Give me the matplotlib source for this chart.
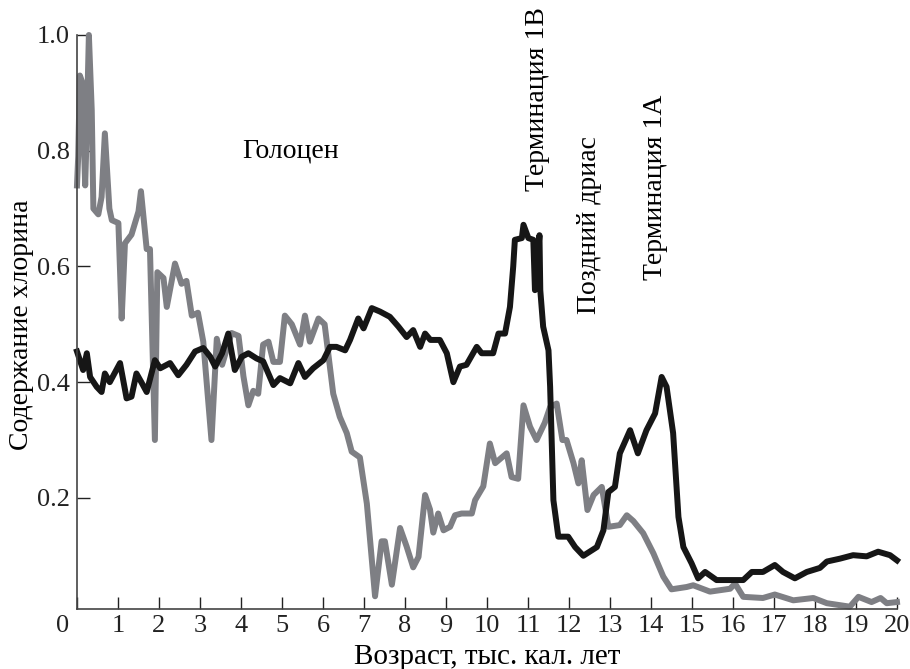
import matplotlib
matplotlib.use("Agg")
from matplotlib import pyplot as plt
from matplotlib import transforms

plt.rcParams['font.family'] = ['Liberation Serif', 'DejaVu Serif']

# grey curve (age, chlorin)
gray_age = [0.00, 0.03, 0.07, 0.12, 0.20, 0.22, 0.29, 0.36, 0.40, 0.52, 0.60, 0.68, 0.79, 0.85,
            1.01, 1.09, 1.17, 1.33, 1.50, 1.56, 1.70, 1.78, 1.90, 1.96, 2.11, 2.19, 2.39, 2.55,
            2.67, 2.80, 2.95, 3.08, 3.28, 3.41, 3.54, 3.77, 3.94, 4.06, 4.18, 4.30, 4.42, 4.54,
            4.67, 4.79, 4.95, 5.07, 5.24, 5.44, 5.56, 5.68, 5.89, 6.04, 6.25, 6.41, 6.58, 6.70,
            6.90, 7.07, 7.27, 7.43, 7.51, 7.68, 7.88, 8.04, 8.20, 8.33, 8.49, 8.61, 8.69, 8.81,
            8.94, 9.10, 9.22, 9.38, 9.63, 9.71, 9.91, 10.07, 10.20, 10.48, 10.60, 10.76, 10.89,
            11.05, 11.21, 11.41, 11.54, 11.70, 11.84, 11.94, 12.11, 12.23, 12.31, 12.45, 12.60,
            12.80, 12.96, 13.24, 13.41, 13.57, 13.81, 14.06, 14.30, 14.50, 14.87, 15.03, 15.44,
            15.93, 16.05, 16.25, 16.73, 17.02, 17.47, 17.96, 18.29, 18.85, 19.06, 19.38, 19.60,
            19.75, 20.00]
gray_val = [0.74, 0.79, 0.93, 0.92, 0.74, 0.79, 1.00, 0.87, 0.70, 0.69, 0.72, 0.83, 0.70, 0.68,
            0.675, 0.51, 0.64, 0.655, 0.695, 0.73, 0.63, 0.63, 0.30, 0.59, 0.58, 0.53, 0.605, 0.57,
            0.575, 0.515, 0.52, 0.47, 0.30, 0.475, 0.43, 0.485, 0.48, 0.41, 0.36, 0.385, 0.38, 0.465,
            0.47, 0.435, 0.435, 0.515, 0.50, 0.465, 0.515, 0.47, 0.51, 0.50, 0.38, 0.34, 0.312, 0.28,
            0.27, 0.19, 0.03, 0.125, 0.125, 0.05, 0.148, 0.116, 0.08, 0.098, 0.205, 0.18, 0.14, 0.173,
            0.144, 0.15, 0.17, 0.173, 0.173, 0.196, 0.22, 0.294, 0.26, 0.277, 0.236, 0.233, 0.36,
            0.323, 0.30, 0.33, 0.357, 0.363, 0.30, 0.30, 0.26, 0.225, 0.265, 0.179, 0.205,
            0.219, 0.15, 0.153, 0.17, 0.16, 0.139, 0.104, 0.064, 0.042, 0.046, 0.049, 0.038,
            0.043, 0.052, 0.029, 0.027, 0.033, 0.023, 0.027, 0.018, 0.012, 0.029, 0.02, 0.027,
            0.018, 0.02]

# black curve (age, chlorin)
black_age = [0.00, 0.07, 0.15, 0.24, 0.32, 0.48, 0.60, 0.68, 0.80, 1.05, 1.21, 1.33, 1.45, 1.57,
             1.70, 1.90, 2.03, 2.27, 2.47, 2.67, 2.88, 3.08, 3.25, 3.37, 3.54, 3.69, 3.85, 4.02,
             4.18, 4.38, 4.54, 4.79, 4.95, 5.20, 5.40, 5.56, 5.76, 6.01, 6.17, 6.33, 6.54, 6.66,
             6.86, 6.99, 7.19, 7.39, 7.63, 7.84, 8.04, 8.20, 8.37, 8.49, 8.62, 8.85, 9.02, 9.18,
             9.34, 9.50, 9.75, 9.87, 10.15, 10.28, 10.44, 10.56, 10.64, 10.68, 10.85, 10.89, 11.01,
             11.13, 11.17, 11.28, 11.30, 11.37, 11.50, 11.54, 11.62, 11.74, 11.98, 12.15, 12.35,
             12.68, 12.84, 12.96, 13.12, 13.24, 13.49, 13.68, 13.89, 14.10, 14.26, 14.38, 14.54,
             14.67, 14.79, 14.99, 15.15, 15.32, 15.60, 15.93, 16.25, 16.46, 16.73, 17.02, 17.22,
             17.51, 17.80, 18.12, 18.29, 18.61, 18.93, 19.26, 19.54, 19.83, 20.00]
black_val = [0.453, 0.438, 0.421, 0.45, 0.409, 0.392, 0.383, 0.415, 0.40, 0.433, 0.372, 0.375, 0.415, 0.40,
             0.383, 0.438, 0.424, 0.433, 0.412, 0.43, 0.453, 0.459, 0.444, 0.427, 0.45, 0.484, 0.421, 0.444,
             0.45, 0.441, 0.436, 0.395, 0.407, 0.398, 0.433, 0.409, 0.424, 0.438, 0.461, 0.461, 0.455, 0.473,
             0.51, 0.493, 0.528, 0.522, 0.513, 0.496, 0.478, 0.49, 0.461, 0.484, 0.473, 0.473, 0.45, 0.40,
             0.427, 0.43, 0.461, 0.45, 0.45, 0.484, 0.484, 0.53, 0.60, 0.646, 0.649, 0.672, 0.649,
             0.646, 0.559, 0.654, 0.559, 0.496, 0.455, 0.392, 0.196, 0.133, 0.133, 0.115, 0.10,
             0.115, 0.144, 0.21, 0.219, 0.277, 0.317, 0.277, 0.317, 0.346, 0.409, 0.392, 0.312,
             0.167, 0.115, 0.087, 0.061, 0.072, 0.058, 0.058, 0.058, 0.072, 0.072, 0.084, 0.072,
             0.061, 0.072, 0.079, 0.090, 0.095, 0.101, 0.099, 0.107, 0.101, 0.092]

x_ticks = list(range(0, 21))
y_ticks = [0.2, 0.4, 0.6, 0.8, 1.0]

fig = plt.figure(figsize=(9.1, 6.69), dpi=100)
ax = fig.add_axes([0.0846, 0.0897, 0.9011, 0.858])

ax.plot(gray_age, gray_val, color='#7e7f84', lw=4.3, clip_on=False)
ax.plot(black_age, black_val, color='#161616', lw=4.3, clip_on=False)

ax.set_xlim(0, 20)
ax.set_ylim(0.008, 1.0)
ax.set_xticks(x_ticks)
ax.set_yticks(y_ticks)
ax.set_yticklabels(['%.1f' % v for v in y_ticks])
ax.tick_params(direction='in', length=9, width=1, labelsize=19, colors='#222222')
ax.tick_params(axis='x', pad=4)
ax.tick_params(axis='y', pad=5)

# the "0" label sits a little left of the axis
lbl0 = ax.get_xticklabels()[0]
lbl0.set_transform(lbl0.get_transform() + transforms.ScaledTranslation(-0.14, 0, fig.dpi_scale_trans))

for s in ['top', 'right']:
    ax.spines[s].set_visible(False)
for s in ['left', 'bottom']:
    ax.spines[s].set_color('#444444')
    ax.spines[s].set_linewidth(1.2)

ax.set_xlabel('Возраст, тыс. кал. лет', fontsize=21)
ax.xaxis.set_label_coords(0.5, -0.061)
ax.set_ylabel('Содержание хлорина', fontsize=20)
ax.yaxis.set_label_coords(-0.052, 0.495)

ax.text(5.2, 0.80, 'Голоцен', fontsize=20, ha='center', va='center')
ax.text(11.22, 0.89, 'Терминация 1B', fontsize=20, rotation=90, ha='center', va='center', clip_on=False)
ax.text(12.51, 0.672, 'Поздний дриас', fontsize=20, rotation=90, ha='center', va='center')
ax.text(14.1, 0.737, 'Терминация 1A', fontsize=20, rotation=90, ha='center', va='center')

fig.savefig('out.png', dpi=100)
